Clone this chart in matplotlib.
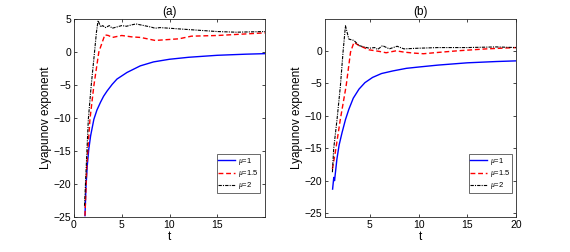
import matplotlib
matplotlib.use("Agg")
import matplotlib.pyplot as plt

plt.rcParams['font.family'] = ['Liberation Sans', 'DejaVu Sans']
plt.rcParams['mathtext.fontset'] = 'custom'
plt.rcParams['mathtext.it'] = 'Liberation Serif:italic'

# panel (a)
ta_1 = [1.15, 1.25, 1.39, 1.55, 1.74, 2.08, 2.4, 2.78, 3.1, 3.47, 4.0, 4.5, 5.55, 6.94, 8.33, 10.0, 12.0, 15.0, 18.0, 20.0]
la_1 = [-24.8, -20.5, -17.2, -14.7, -12.7, -10.2, -8.8, -7.6, -6.7, -5.9, -4.9, -4.1, -3.1, -2.1, -1.5, -1.1, -0.8, -0.5, -0.33, -0.25]
ta_15 = [1.15, 1.34, 1.67, 2.08, 2.6, 3.23, 3.6, 4.0, 5.0, 6.0, 7.0, 8.5, 10.0, 11.0, 12.3, 15.0, 17.5, 20.0]
la_15 = [-24.8, -17.2, -10.2, -5.1, 0.0, 2.6, 2.5, 2.2, 2.5, 2.3, 2.2, 1.75, 1.9, 2.0, 2.4, 2.5, 2.7, 2.9]
ta_2 = [1.1, 1.5, 1.8, 2.15, 2.35, 2.52, 2.65, 2.8, 3.0, 3.3, 3.7, 4.0, 4.5, 5.0, 5.5, 6.0, 6.5, 7.0, 8.0, 8.5,
        9.0, 10.0, 11.0, 13.0, 15.0, 17.0, 20.0]
la_2 = [-23.3, -10.2, -5.1, 0, 3.0, 4.75, 4.3, 3.8, 4.0, 3.7, 4.0, 3.6, 3.8, 4.0, 3.9, 4.1, 4.25, 4.1, 3.8, 3.6,
        3.7, 3.6, 3.5, 3.3, 3.1, 3.0, 3.1]

# panel (b)
tb_1 = [1.18, 1.3, 1.38, 1.62, 1.85, 2.15, 2.5, 2.85, 3.3, 3.89, 4.5, 5.28, 6.2, 7.36, 8.75, 10.0, 12.0, 15.0, 18.0, 20.0]
lb_1 = [-21.3, -19.5, -20.0, -16.7, -14.5, -12.6, -10.6, -9.0, -7.3, -5.9, -4.9, -4.1, -3.5, -3.1, -2.7, -2.5, -2.2, -1.85, -1.65, -1.55]
tb_15 = [1.16, 1.46, 1.98, 2.57, 3.02, 3.37, 3.9, 4.93, 6.0, 6.67, 7.7, 8.5, 9.5, 10.5, 12.0, 14.0, 17.0, 20.0]
lb_15 = [-18.2, -15.6, -10.5, -5.4, -0.2, 1.3, 0.8, 0.15, -0.1, -0.3, 0.0, -0.2, -0.35, -0.45, -0.25, 0.0, 0.3, 0.5]
tb_2 = [1.16, 1.29, 1.64, 1.98, 2.25, 2.5, 2.85, 3.37, 3.9, 4.93, 5.5, 5.8, 6.3, 7.0, 7.8, 8.5, 10.0, 12.0,
        15.0, 18.0, 20.0]
lb_2 = [-18.7, -15.1, -10.5, -5.4, -0.2, 3.85, 1.8, 1.6, 0.8, 0.4, 0.5, 0.2, 0.8, 0.3, 0.7, 0.3, 0.4, 0.5,
        0.5, 0.6, 0.5]

labels = [r'$\mu$=1', r'$\mu$=1.5', r'$\mu$=2']

fig = plt.figure(figsize=(5.7, 2.52), dpi=100)
axa = fig.add_axes([74/570, 35/252, 191/570, 198/252])
axb = fig.add_axes([325/570, 35/252, 191/570, 198/252])

def dessine(ax, t1, l1, t15, l15, t2, l2, xleg):
    ax.plot(t1, l1, color='#0000ff', lw=1.0, label=labels[0])
    ax.plot(t15, l15, color='#ff0000', lw=1.0, ls=(0, (3.5, 2)), label=labels[1])
    ax.plot(t2, l2, color='black', lw=0.8, ls=(0, (3, 1, 1, 1)), label=labels[2])
    ax.tick_params(direction='in', length=2.5, width=0.6, labelsize=7.5, top=True, right=True,
                   colors='#262626', labelcolor='black', pad=2)
    for s in ax.spines.values():
        s.set_color('#262626')
        s.set_linewidth(0.6)
    ax.set_xlabel('t', fontsize=8.5, labelpad=1)
    ax.set_ylabel('Lyapunov exponent', fontsize=8.5, labelpad=1)
    leg = ax.legend(loc='lower right', bbox_to_anchor=(xleg, 0.12), fontsize=5.5, frameon=True,
                    fancybox=False, edgecolor='#262626', handlelength=2.2, handletextpad=0.3,
                    borderpad=0.25, labelspacing=0.15, borderaxespad=0)
    leg.get_frame().set_linewidth(0.6)

dessine(axa, ta_1, la_1, ta_15, la_15, ta_2, la_2, 0.974)
axa.set_xlim(0, 20)
axa.set_ylim(-25, 5)
axa.set_xticks([0, 5, 10, 15])
axa.set_yticks([-25, -20, -15, -10, -5, 0, 5])
axa.set_title('(a)', fontsize=8.5, pad=3)

dessine(axb, tb_1, lb_1, tb_15, lb_15, tb_2, lb_2, 0.979)
axb.set_xlim(0.4, 20)
axb.set_ylim(-25.6, 4.9)
axb.set_xticks([5, 10, 15, 20])
axb.set_yticks([-25, -20, -15, -10, -5, 0])
axb.set_title('(b)', fontsize=8.5, pad=3)

fig.savefig('out.png', dpi=100)
